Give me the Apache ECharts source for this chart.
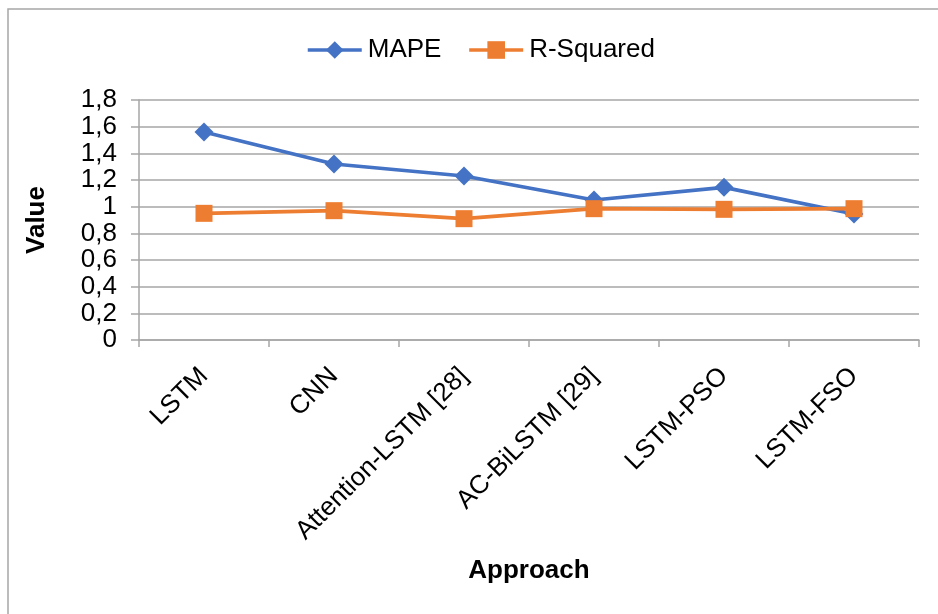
<!DOCTYPE html>
<html>
<head>
<meta charset="utf-8">
<script src="https://cdn.jsdelivr.net/npm/echarts@6/dist/echarts.min.js"></script>
<style>
html,body{margin:0;padding:0;background:#fff;}
#chart{width:938px;height:614px;}
</style>
</head>
<body>
<div id="chart"></div>
<script>
const categories = ['LSTM', 'CNN', 'Attention-LSTM [28]', 'AC-BiLSTM [29]', 'LSTM-PSO', 'LSTM-FSO'];
const mapeValues = [1.56, 1.32, 1.23, 1.05, 1.145, 0.945];
const rSquaredValues = [0.95, 0.97, 0.91, 0.985, 0.98, 0.985];
const seriesNames = ['MAPE', 'R-Squared'];
const yMin = 0, yMax = 1.8, yStep = 0.2;

const FONT = 'Liberation Sans, Arial, sans-serif';
const GRID_COLOR = '#a6a6a6';

const chart = echarts.init(document.getElementById('chart'));
chart.setOption({
  backgroundColor: '#fff',
  animation: false,
  graphic: [{
    type: 'rect',
    shape: { x: 8, y: 9, width: 1200, height: 1200 },
    style: { fill: 'none', stroke: '#a6a6a6', lineWidth: 1.5 },
    silent: true
  }],
  legend: {
    top: 32,
    left: 301,
    itemWidth: 54,
    itemHeight: 22,
    itemGap: 26,
    lineStyle: { width: 3.5 },
    textStyle: { fontFamily: FONT, fontSize: 26, color: '#000', padding: [0, 0, 0, 1] },
    data: seriesNames
  },
  grid: { left: 139, right: 19, top: 100, bottom: 274, containLabel: false },
  xAxis: {
    type: 'category',
    data: categories,
    boundaryGap: true,
    name: 'Approach',
    nameLocation: 'middle',
    nameGap: 218,
    nameTextStyle: { fontFamily: FONT, fontSize: 26, fontWeight: 'bold', color: '#000' },
    axisLine: { lineStyle: { color: GRID_COLOR, width: 1.5 } },
    axisTick: { show: true, length: 7, lineStyle: { color: GRID_COLOR, width: 1.5 } },
    axisLabel: { rotate: 45, margin: 32, fontFamily: FONT, fontSize: 26, color: '#000', interval: 0 },
    splitLine: { show: false }
  },
  yAxis: {
    type: 'value',
    min: yMin, max: yMax, interval: yStep,
    name: 'Value',
    nameLocation: 'middle',
    nameRotate: 90,
    nameGap: 89,
    nameTextStyle: { fontFamily: FONT, fontSize: 26, fontWeight: 'bold', color: '#000' },
    axisLine: { show: true, lineStyle: { color: GRID_COLOR, width: 1.5 } },
    axisTick: { show: true, length: 8, lineStyle: { color: GRID_COLOR, width: 1.5 } },
    axisLabel: {
      margin: 22, fontFamily: FONT, fontSize: 26, color: '#000',
      formatter: v => String(Math.round(v * 10) / 10).replace('.', ',')
    },
    splitLine: { show: true, lineStyle: { color: GRID_COLOR, width: 1.5 } }
  },
  series: [
    {
      name: seriesNames[0], type: 'line', data: mapeValues,
      symbol: 'diamond', symbolSize: 19,
      lineStyle: { color: '#4472C4', width: 3.75 },
      itemStyle: { color: '#4472C4' },
      z: 2
    },
    {
      name: seriesNames[1], type: 'line', data: rSquaredValues,
      symbol: 'rect', symbolSize: 17,
      lineStyle: { color: '#ED7D31', width: 3.75 },
      itemStyle: { color: '#ED7D31' },
      z: 3
    }
  ]
});
</script>
</body>
</html>
